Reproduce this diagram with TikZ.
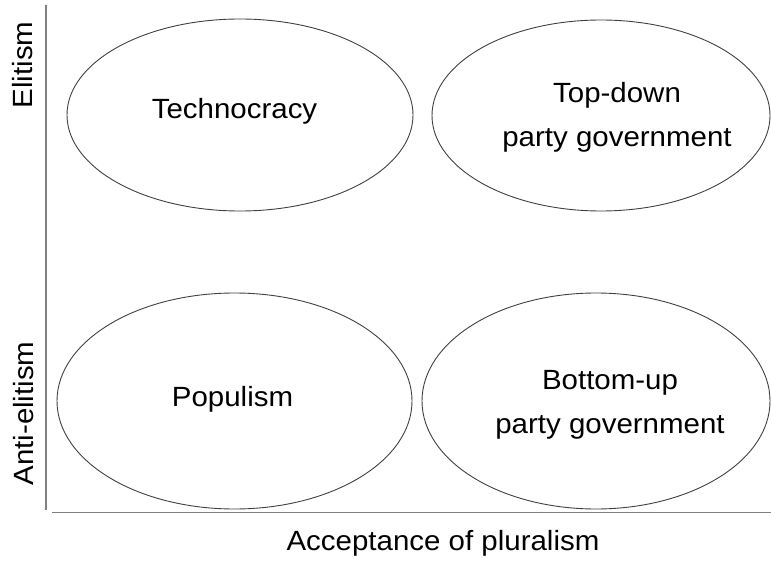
\documentclass[tikz,border=0pt]{standalone}
\usepackage{fontspec}
\setmainfont{Liberation Sans}[FakeStretch=1.06]
\usetikzlibrary{shapes.geometric}
\begin{document}
\begin{tikzpicture}[x=1pt,y=-1pt,
  axisline/.style={draw=black!50,line width=1.4pt},
  regime/.style={ellipse,draw=black!75,line width=0.9pt,inner sep=0pt},
  lbl/.style={font=\fontsize{27.8}{44}\selectfont,text=black,inner sep=0pt,anchor=base,align=center}]
  \useasboundingbox (0,0) rectangle (771,561);
  % axes
  \coordinate (ytop) at (46,5);
  \coordinate (ybot) at (46,510);
  \coordinate (xleft) at (52,512.5);
  \coordinate (xright) at (771,512.5);
  \draw[axisline] (ytop) -- (ybot);
  \draw[axisline] (xleft) -- (xright);
  % quadrants
  \node[regime,minimum width=346pt,minimum height=192pt] (techno) at (240,115) {};
  \node[regime,minimum width=338pt,minimum height=191pt] (topdown) at (601,115.5) {};
  \node[regime,minimum width=355pt,minimum height=216pt] (popul) at (234.5,401) {};
  \node[regime,minimum width=348pt,minimum height=216pt] (bottomup) at (596,401) {};
  % labels (base anchor sits on the last line's baseline)
  \node[lbl] (technoT) at (234.5,119) {Technocracy};
  \node[lbl] (topdownT) at (617,147) {Top-down\\party government};
  \node[lbl] (populT) at (232.5,406) {Populism};
  \node[lbl] (bottomupT) at (610,433) {Bottom-up\\party government};
  \node[lbl] (xlabel) at (443,550) {Acceptance of pluralism};
  \node[lbl,rotate=90] (ylabelA) at (32,65) {Elitism};
  \node[lbl,rotate=90] (ylabelB) at (33,413.5) {Anti-elitism};
\end{tikzpicture}
\end{document}
